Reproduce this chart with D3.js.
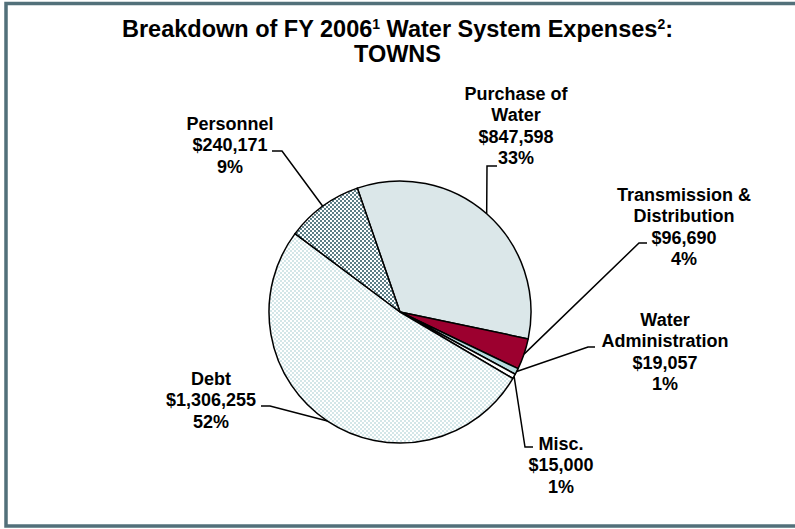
<!DOCTYPE html>
<html>
  <head>
    <meta charset="utf-8">
    <title>Water system expenses - towns</title>
    <style>
      body { margin: 0; background: #fff; }
      text { font-family: "Liberation Sans", Arial, sans-serif; font-weight: bold; fill: #000; }
    </style>
  </head>
  <body>
    <script src="https://d3js.org/d3.v7.min.js"></script>
    <script>

        // data (clockwise from the top)
        var categories = ["Purchase of Water", "Transmission & Distribution", "Water Administration", "Misc.", "Debt", "Personnel"];
        var nameLines = [["Purchase of", "Water"], ["Transmission &", "Distribution"], ["Water", "Administration"], ["Misc."], ["Debt"], ["Personnel"]];
        var amounts = [847598, 96690, 19057, 15000, 1306255, 240171];
        var percentLabels = ["33%", "4%", "1%", "1%", "52%", "9%"];

        var width = 795, height = 529;
        var cx = 400, cy = 312, radius = 131;

        // label placement + leader elbows (layout only)
        var layout = {
          "Purchase of Water":           {x: 516, y: 100, leader: [[497, 166], [487, 166]]},
          "Transmission & Distribution": {x: 684, y: 201, leader: [[647, 243], [639, 243]]},
          "Water Administration":        {x: 665, y: 326, leader: [[595, 347], [588, 347]]},
          "Misc.":                       {x: 561, y: 450, leader: [[533, 447], [525, 447]]},
          "Debt":                        {x: 211, y: 385, leader: [[261, 406], [270, 406]]},
          "Personnel":                   {x: 230, y: 130, leader: [[272, 151], [282, 151]]}
        };
        var lineH = 21.3;

        var svg = d3.select("body").append("svg")
            .attr("width", width)
            .attr("height", height);

        // fill patterns
        var defs = svg.append("defs");
        var p1 = defs.append("pattern").attr("id", "checkDark")
            .attr("patternUnits", "userSpaceOnUse").attr("width", 4).attr("height", 4);
        p1.append("rect").attr("width", 4).attr("height", 4).attr("fill", "#fff");
        p1.append("rect").attr("width", 2).attr("height", 2).attr("fill", "#5d7e86");
        p1.append("rect").attr("x", 2).attr("y", 2).attr("width", 2).attr("height", 2).attr("fill", "#5d7e86");

        var p2 = defs.append("pattern").attr("id", "checkLight")
            .attr("patternUnits", "userSpaceOnUse").attr("width", 4).attr("height", 4);
        p2.append("rect").attr("width", 4).attr("height", 4).attr("fill", "#fff");
        p2.append("rect").attr("width", 2).attr("height", 2).attr("fill", "#d3e6e8");
        p2.append("rect").attr("x", 2).attr("y", 2).attr("width", 2).attr("height", 2).attr("fill", "#d3e6e8");

        var color = d3.scaleOrdinal()
            .domain(categories)
            .range(["#dbe7e9", "#9c002f", "#b8dce0", "#ffffff", "url(#checkLight)", "url(#checkDark)"]);

        // frame
        svg.append("rect")
            .attr("x", 6).attr("y", 3.5)
            .attr("width", 800).attr("height", 522.5)
            .attr("fill", "none")
            .attr("stroke", "#52707a")
            .attr("stroke-width", 3.5);

        // title
        var title = svg.append("text")
            .attr("x", width / 2)
            .attr("y", 37)
            .attr("text-anchor", "middle")
            .style("font-size", "23.5px");
        title.append("tspan").text("Breakdown of FY 2006");
        title.append("tspan").attr("baseline-shift", "super").style("font-size", "14px").text("1");
        title.append("tspan").text(" Water System Expenses");
        title.append("tspan").attr("baseline-shift", "super").style("font-size", "14px").text("2");
        title.append("tspan").text(":");

        svg.append("text")
            .attr("x", width / 2)
            .attr("y", 62)
            .attr("text-anchor", "middle")
            .style("font-size", "23.5px")
            .text("TOWNS");

        var data = categories.map(function(c, i) {
          return {name: c, amount: amounts[i], lines: nameLines[i].concat([d3.format("$,")(amounts[i]), percentLabels[i]])};
        });

        var pie = d3.pie()
            .sort(null)
            .value(function(d) { return d.amount; })
            .startAngle(-19 * Math.PI / 180)
            .endAngle((360 - 19) * Math.PI / 180);

        var arc = d3.arc().innerRadius(0).outerRadius(radius);

        var g = svg.append("g")
            .attr("transform", "translate(" + cx + "," + cy + ")");

        var arcs = pie(data);

        g.selectAll("path")
            .data(arcs)
            .enter().append("path")
            .attr("d", arc)
            .attr("fill", function(d) { return color(d.data.name); })
            .attr("stroke", "#000")
            .attr("stroke-width", 1.5)
            .attr("stroke-linejoin", "round");

        // leader lines
        svg.selectAll(".leader")
            .data(arcs)
            .enter().append("polyline")
            .attr("class", "leader")
            .attr("fill", "none")
            .attr("stroke", "#000")
            .attr("stroke-width", 1.5)
            .attr("points", function(d) {
              var a = (d.startAngle + d.endAngle) / 2;
              var pts = layout[d.data.name].leader.concat([[cx + radius * Math.sin(a), cy - radius * Math.cos(a)]]);
              return pts.map(function(p) { return p.join(","); }).join(" ");
            });

        // labels
        arcs.forEach(function(d) {
          var L = layout[d.data.name];
          var t = svg.append("text")
              .attr("text-anchor", "middle")
              .style("font-size", "18px");
          d.data.lines.forEach(function(line, i) {
            t.append("tspan")
              .attr("x", L.x)
              .attr("y", L.y + i * lineH)
              .text(line);
          });
        });

    </script>
  </body>
</html>
